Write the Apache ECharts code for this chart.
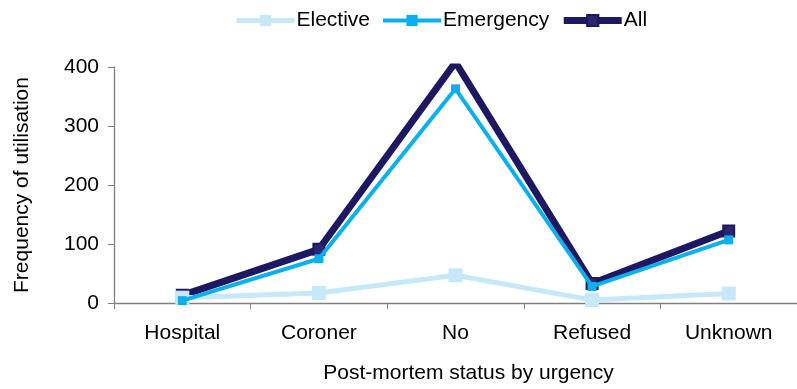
<!DOCTYPE html>
<html><head><meta charset="utf-8">
<script src="https://cdn.jsdelivr.net/npm/echarts@6/dist/echarts.min.js"></script>
<style>html,body{margin:0;padding:0;background:#fff}#c{width:797px;height:389px}</style>
</head><body><div id="c"></div>
<script>
const categories = ['Hospital','Coroner','No','Refused','Unknown'];
const elective = [9, 17, 47, 5, 16];
const emergency = [4, 75, 363, 28, 107];
const all = [13, 91, 408, 33, 122];
const yTicks = [0, 100, 200, 300, 400];

const chart = echarts.init(document.getElementById('c'));
const font = 'Liberation Sans, Arial, sans-serif';
const cElective = '#C6E8F8', cEmerg = '#0AB0EE', cAll = '#1E1862';
chart.setOption({
  animation: false,
  textStyle: {fontFamily: font},
  legend: {
    top: 5, left: 229, itemWidth: 58, itemHeight: 14, itemGap: 11,
    textStyle: {fontSize: 21, color: '#000', fontFamily: font, padding: [0, 0, 0, -3]},
    data: [
      {name: 'Elective', lineStyle: {width: 5, color: cElective}},
      {name: 'Emergency', lineStyle: {width: 4, color: cEmerg}},
      {name: 'All', lineStyle: {width: 7, color: cAll}}
    ]
  },
  grid: {left: 114, top: 67, width: 690, height: 237},
  xAxis: {
    type: 'category', data: categories, boundaryGap: true,
    name: 'Post-mortem status by urgency', nameLocation: 'middle', nameGap: 60,
    nameTextStyle: {fontSize: 21, color: '#000', fontFamily: font, padding: [0, 0, 0, 26]},
    axisLine: {lineStyle: {color: '#808080', width: 1.3}},
    axisTick: {show: true, length: 6, lineStyle: {color: '#808080'}},
    axisLabel: {fontSize: 21, color: '#000', margin: 20, fontFamily: font}
  },
  yAxis: {
    type: 'value', min: yTicks[0], max: yTicks[yTicks.length-1], interval: 100,
    name: 'Frequency of utilisation', nameLocation: 'middle', nameGap: 81,
    nameTextStyle: {fontSize: 21, color: '#000', fontFamily: font},
    axisLine: {show: true, lineStyle: {color: '#808080', width: 1.3}},
    axisTick: {show: true, length: 6, lineStyle: {color: '#808080'}},
    axisLabel: {fontSize: 21, color: '#000', margin: 15, fontFamily: font},
    splitLine: {show: false}
  },
  series: [
    {name: 'Elective', type: 'line', data: elective, symbol: 'rect', symbolSize: 14,
     lineStyle: {color: cElective, width: 5}, itemStyle: {color: cElective}, z: 2},
    {name: 'Emergency', type: 'line', data: emergency, symbol: 'rect', symbolSize: 9,
     lineStyle: {color: cEmerg, width: 4}, itemStyle: {color: cEmerg}, z: 3},
    {name: 'All', type: 'line', data: all, symbol: 'rect', symbolSize: 11,
     lineStyle: {color: cAll, width: 7}, itemStyle: {color: '#2A2670', borderColor: cAll, borderWidth: 2}, z: 1}
  ]
});
</script></body></html>
